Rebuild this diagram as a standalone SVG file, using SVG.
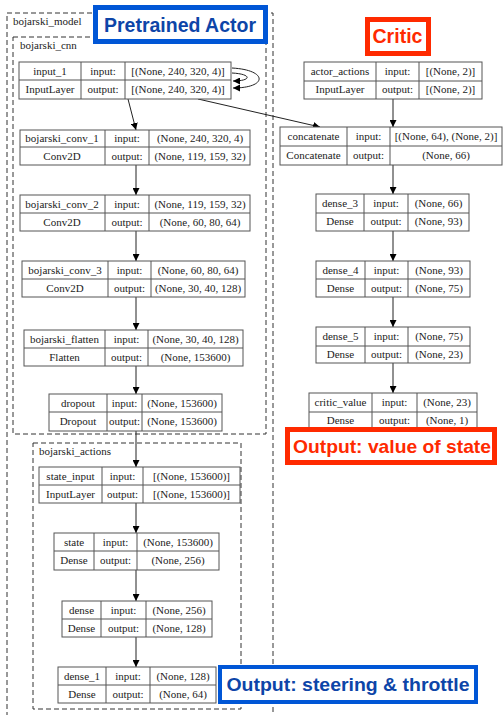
<svg xmlns="http://www.w3.org/2000/svg" width="503" height="715" viewBox="0 0 503 715">
<style>
.bg{fill:#fff}
.cl{fill:none;stroke:#333;stroke-width:1;stroke-dasharray:5,3}
.lbl{font-family:'Liberation Serif','DejaVu Serif',serif;font-size:11px;fill:#222}
.nb{fill:#fff;stroke:#555;stroke-width:1}
.ln{fill:none;stroke:#555;stroke-width:1}
.t{font-family:'Liberation Serif','DejaVu Serif',serif;font-size:11px;fill:#222;text-anchor:middle}
.e{fill:none;stroke:#222;stroke-width:1;marker-end:url(#ah)}
.bl{fill:#fff;stroke:#0056d6}
.rd{fill:#fff;stroke:#ff2a00}
.bt{font-family:'Liberation Sans',Arial,sans-serif;font-weight:bold;fill:#0d45a8;text-anchor:middle}
.rt{font-family:'Liberation Sans',Arial,sans-serif;font-weight:bold;fill:#ff2a00;text-anchor:middle}
</style>
<defs>
<marker id="ah" viewBox="0 0 10 10" refX="10" refY="5" markerWidth="7" markerHeight="7" markerUnits="userSpaceOnUse" orient="auto">
<path d="M0,0 L10,5 L0,10 z" fill="#000"/>
</marker>
</defs>
<rect class="bg" x="0" y="0" width="503" height="715"/>

<g id="clusters" font-family="Liberation Serif, DejaVu Serif, serif">
<rect class="cl" x="7" y="13" width="266" height="710"/>
<text class="lbl" x="13" y="25">bojarski_model</text>
<rect class="cl" x="13" y="37" width="253" height="397"/>
<text class="lbl" x="20" y="49">bojarski_cnn</text>
<rect class="cl" x="33" y="443" width="208" height="266"/>
<text class="lbl" x="39" y="455">bojarski_actions</text>
</g>

<g id="connectors">
<path class="e" d="M232,68 C268,70 268,88 233,88"/>
<path class="e" d="M232,73 C252,74 252,81 233,81"/>
<path class="e" d="M128,99 L136,130"/>
<path class="e" d="M198,99 L320,127"/>
<path class="e" d="M136,165 L136,195"/>
<path class="e" d="M136,231 L136,261"/>
<path class="e" d="M136,297 L136,330"/>
<path class="e" d="M136,366 L136,394"/>
<path class="e" d="M136,431 L136,467"/>
<path class="e" d="M136,503 L136,533"/>
<path class="e" d="M136,570 L136,601"/>
<path class="e" d="M136,637 L136,667"/>
<path class="e" d="M393,99 L393,127"/>
<path class="e" d="M393,165 L393,194"/>
<path class="e" d="M393,231 L393,261"/>
<path class="e" d="M393,297 L393,327"/>
<path class="e" d="M393,363 L393,393"/>
</g>

<g id="nodes" font-family="Liberation Serif, DejaVu Serif, serif">
<g id="input_1">
<rect class="nb" x="19" y="62" width="212" height="37"/>
<path class="ln" d="M19,80H231M81,62V99M125,62V99"/>
<text class="t" x="50" y="75">input_1</text><text class="t" x="50" y="93">InputLayer</text>
<text class="t" x="103" y="75">input:</text><text class="t" x="103" y="93">output:</text>
<text class="t" x="178" y="75">[(None, 240, 320, 4)]</text><text class="t" x="178" y="93">[(None, 240, 320, 4)]</text>
</g>

<g id="bojarski_conv_1">
<rect class="nb" x="20" y="130" width="230" height="35"/>
<path class="ln" d="M20,147H250M105,130V165M149,130V165"/>
<text class="t" x="62" y="142">bojarski_conv_1</text><text class="t" x="62" y="160">Conv2D</text>
<text class="t" x="127" y="142">input:</text><text class="t" x="127" y="160">output:</text>
<text class="t" x="200" y="142">(None, 240, 320, 4)</text><text class="t" x="200" y="160">(None, 119, 159, 32)</text>
</g>

<g id="bojarski_conv_2">
<rect class="nb" x="20" y="195" width="230" height="36"/>
<path class="ln" d="M20,213H250M105,195V231M149,195V231"/>
<text class="t" x="62" y="208">bojarski_conv_2</text><text class="t" x="62" y="226">Conv2D</text>
<text class="t" x="127" y="208">input:</text><text class="t" x="127" y="226">output:</text>
<text class="t" x="200" y="208">(None, 119, 159, 32)</text><text class="t" x="200" y="226">(None, 60, 80, 64)</text>
</g>

<g id="bojarski_conv_3">
<rect class="nb" x="22" y="261" width="223" height="36"/>
<path class="ln" d="M22,279H245M108,261V297M151,261V297"/>
<text class="t" x="65" y="274">bojarski_conv_3</text><text class="t" x="65" y="292">Conv2D</text>
<text class="t" x="129.5" y="274">input:</text><text class="t" x="129.5" y="292">output:</text>
<text class="t" x="198" y="274">(None, 60, 80, 64)</text><text class="t" x="198" y="292">(None, 30, 40, 128)</text>
</g>

<g id="bojarski_flatten">
<rect class="nb" x="24" y="330" width="219" height="36"/>
<path class="ln" d="M24,348H243M105,330V366M148,330V366"/>
<text class="t" x="64.5" y="343">bojarski_flatten</text><text class="t" x="64.5" y="361">Flatten</text>
<text class="t" x="126.5" y="343">input:</text><text class="t" x="126.5" y="361">output:</text>
<text class="t" x="195.5" y="343">(None, 30, 40, 128)</text><text class="t" x="195.5" y="361">(None, 153600)</text>
</g>

<g id="dropout">
<rect class="nb" x="49" y="394" width="173" height="37"/>
<path class="ln" d="M49,412H222M107,394V431M142,394V431"/>
<text class="t" x="78" y="407">dropout</text><text class="t" x="78" y="425">Dropout</text>
<text class="t" x="124.5" y="407">input:</text><text class="t" x="124.5" y="425">output:</text>
<text class="t" x="182" y="407">(None, 153600)</text><text class="t" x="182" y="425">(None, 153600)</text>
</g>

<g id="state_input">
<rect class="nb" x="39" y="467" width="201" height="36"/>
<path class="ln" d="M39,485H240M102,467V503M143,467V503"/>
<text class="t" x="70.5" y="480">state_input</text><text class="t" x="70.5" y="498">InputLayer</text>
<text class="t" x="122.5" y="480">input:</text><text class="t" x="122.5" y="498">output:</text>
<text class="t" x="191.5" y="480">[(None, 153600)]</text><text class="t" x="191.5" y="498">[(None, 153600)]</text>
</g>

<g id="state">
<rect class="nb" x="54" y="533" width="165" height="37"/>
<path class="ln" d="M54,551H219M94,533V570M137,533V570"/>
<text class="t" x="74" y="546">state</text><text class="t" x="74" y="564">Dense</text>
<text class="t" x="115.5" y="546">input:</text><text class="t" x="115.5" y="564">output:</text>
<text class="t" x="178" y="546">(None, 153600)</text><text class="t" x="178" y="564">(None, 256)</text>
</g>

<g id="dense">
<rect class="nb" x="62" y="601" width="150" height="36"/>
<path class="ln" d="M62,619H212M101,601V637M146,601V637"/>
<text class="t" x="81.5" y="614">dense</text><text class="t" x="81.5" y="632">Dense</text>
<text class="t" x="123.5" y="614">input:</text><text class="t" x="123.5" y="632">output:</text>
<text class="t" x="179" y="614">(None, 256)</text><text class="t" x="179" y="632">(None, 128)</text>
</g>

<g id="dense_1">
<rect class="nb" x="58" y="667" width="158" height="36"/>
<path class="ln" d="M58,685H216M106,667V703M150,667V703"/>
<text class="t" x="82" y="680">dense_1</text><text class="t" x="82" y="698">Dense</text>
<text class="t" x="128" y="680">input:</text><text class="t" x="128" y="698">output:</text>
<text class="t" x="183" y="680">(None, 128)</text><text class="t" x="183" y="698">(None, 64)</text>
</g>

<g id="actor_actions">
<rect class="nb" x="304" y="62" width="178" height="37"/>
<path class="ln" d="M304,81H482M376,62V99M419,62V99"/>
<text class="t" x="340" y="75">actor_actions</text><text class="t" x="340" y="93">InputLayer</text>
<text class="t" x="397.5" y="75">input:</text><text class="t" x="397.5" y="93">output:</text>
<text class="t" x="450.5" y="75">[(None, 2)]</text><text class="t" x="450.5" y="93">[(None, 2)]</text>
</g>

<g id="concatenate">
<rect class="nb" x="280" y="127" width="222" height="38"/>
<path class="ln" d="M280,146H502M347,127V165M390,127V165"/>
<text class="t" x="313.5" y="140">concatenate</text><text class="t" x="313.5" y="159">Concatenate</text>
<text class="t" x="368.5" y="140">input:</text><text class="t" x="368.5" y="159">output:</text>
<text class="t" x="446" y="140">[(None, 64), (None, 2)]</text><text class="t" x="446" y="159">(None, 66)</text>
</g>

<g id="dense_3">
<rect class="nb" x="316" y="194" width="153" height="37"/>
<path class="ln" d="M316,213H469M364,194V231M408,194V231"/>
<text class="t" x="340" y="207">dense_3</text><text class="t" x="340" y="225">Dense</text>
<text class="t" x="386" y="207">input:</text><text class="t" x="386" y="225">output:</text>
<text class="t" x="438.5" y="207">(None, 66)</text><text class="t" x="438.5" y="225">(None, 93)</text>
</g>

<g id="dense_4">
<rect class="nb" x="316" y="261" width="154" height="36"/>
<path class="ln" d="M316,279H470M365,261V297M408,261V297"/>
<text class="t" x="340.5" y="274">dense_4</text><text class="t" x="340.5" y="292">Dense</text>
<text class="t" x="386.5" y="274">input:</text><text class="t" x="386.5" y="292">output:</text>
<text class="t" x="439" y="274">(None, 93)</text><text class="t" x="439" y="292">(None, 75)</text>
</g>

<g id="dense_5">
<rect class="nb" x="316" y="327" width="154" height="36"/>
<path class="ln" d="M316,346H470M365,327V363M408,327V363"/>
<text class="t" x="340.5" y="340">dense_5</text><text class="t" x="340.5" y="358">Dense</text>
<text class="t" x="386.5" y="340">input:</text><text class="t" x="386.5" y="358">output:</text>
<text class="t" x="439" y="340">(None, 75)</text><text class="t" x="439" y="358">(None, 23)</text>
</g>

<g id="critic_value">
<rect class="nb" x="309" y="393" width="168" height="36"/>
<path class="ln" d="M309,412H477M372,393V429M417,393V429"/>
<text class="t" x="340.5" y="406">critic_value</text><text class="t" x="340.5" y="424">Dense</text>
<text class="t" x="394.5" y="406">input:</text><text class="t" x="394.5" y="424">output:</text>
<text class="t" x="447" y="406">(None, 23)</text><text class="t" x="447" y="424">(None, 1)</text>
</g>
</g>

<g id="pretrained_actor">
<rect class="bl" x="95.5" y="7.5" width="170" height="34" stroke-width="5"/>
<text class="bt" x="180" y="32" font-size="19.5" textLength="152" lengthAdjust="spacingAndGlyphs">Pretrained Actor</text>
</g>

<g id="critic">
<rect class="rd" x="367.5" y="19.5" width="61" height="34" stroke-width="5"/>
<text class="rt" x="397.5" y="43" font-size="19.5" textLength="50" lengthAdjust="spacingAndGlyphs">Critic</text>
</g>

<g id="output_value">
<rect class="rd" x="287.5" y="429.5" width="207" height="33" stroke-width="5"/>
<text class="rt" x="392" y="453" font-size="18.5" textLength="198" lengthAdjust="spacingAndGlyphs">Output: value of state</text>
</g>

<g id="output_steering">
<rect class="bl" x="220" y="667" width="256" height="35" stroke-width="4"/>
<text class="bt" x="348" y="691" font-size="17.5" textLength="243" lengthAdjust="spacingAndGlyphs">Output: steering &amp; throttle</text>
</g>
</svg>
